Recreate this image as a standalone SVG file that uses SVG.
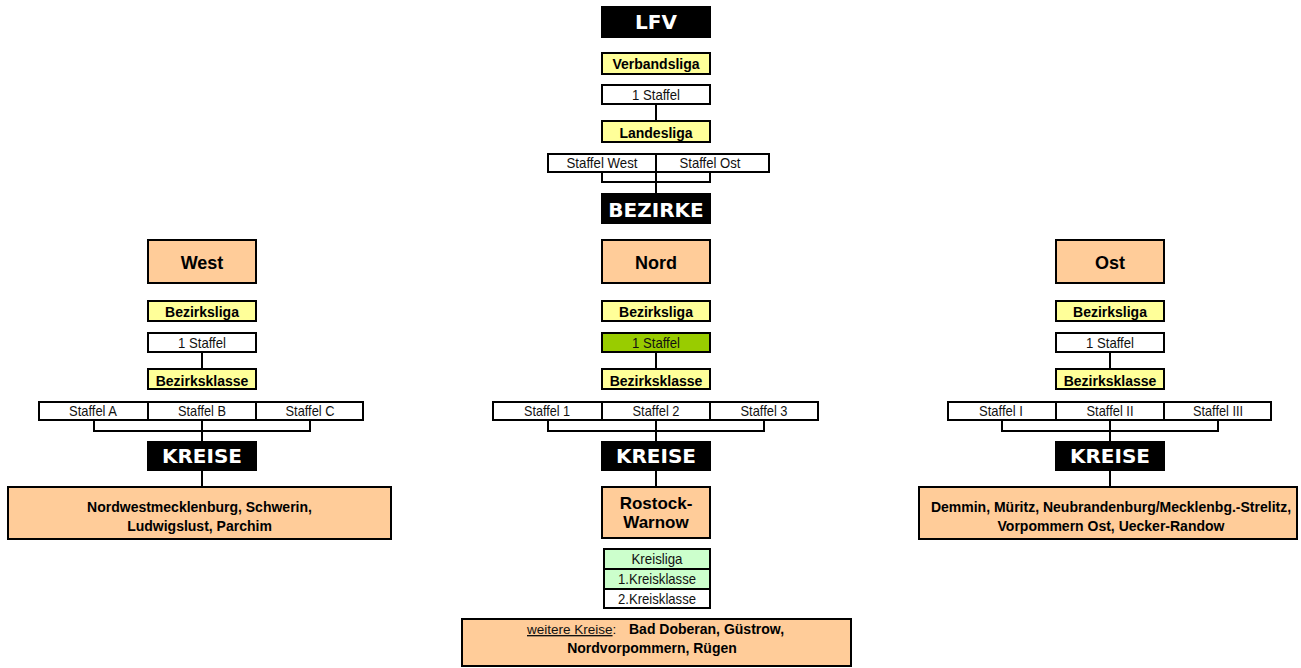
<svg xmlns="http://www.w3.org/2000/svg" width="1301" height="668" viewBox="0 0 1301 668">
<style>
  .box{stroke:#000;stroke-width:2}
  .yel{fill:#FFFF99}
  .wht{fill:#FFFFFF}
  .org{fill:#FFCC99}
  .grn{fill:#99CC00}
  .lgr{fill:#CCFFCC}
  .blk{fill:#000}
  .hdr{font-family:"DejaVu Sans",Verdana,sans-serif;font-weight:bold;font-size:20px;fill:#fff;text-anchor:middle}
  .b14{font-family:"Liberation Sans",Arial,sans-serif;font-weight:bold;font-size:14px;fill:#000;text-anchor:middle}
  .b18{font-family:"Liberation Sans",Arial,sans-serif;font-weight:bold;font-size:18px;fill:#000;text-anchor:middle}
  .b17{font-family:"Liberation Sans",Arial,sans-serif;font-weight:bold;font-size:17px;fill:#000;text-anchor:middle}
  .r13{font-family:"Liberation Sans",Arial,sans-serif;font-size:14.5px;fill:#111;text-anchor:middle}
  .ln{stroke:#000;stroke-width:2;fill:none}
</style>

<g id="connectors">
  <path class="ln" d="M656 105V120"/>
  <path class="ln" d="M602 173V182H710V173M656 173V193"/>
  <path class="ln" d="M202 353V368"/>
  <path class="ln" d="M94 421V431H310V421M202 421V441"/>
  <path class="ln" d="M202 471V486"/>
  <path class="ln" d="M656 353V368"/>
  <path class="ln" d="M548 421V431H764V421M656 421V441"/>
  <path class="ln" d="M656 471V486"/>
  <path class="ln" d="M1110 353V368"/>
  <path class="ln" d="M1002 421V431H1218V421M1110 421V441"/>
  <path class="ln" d="M1110 471V486"/>
</g>

<g id="lfv"><rect class="blk" x="601" y="6" width="110" height="32"/><text class="hdr" x="656" y="29.3">LFV</text></g>
<g id="verbandsliga"><rect class="box yel" x="602" y="53" width="108" height="21"/><text class="b14" x="656" y="69.3">Verbandsliga</text></g>
<g id="vl-staffel"><rect class="box wht" x="602" y="85" width="108" height="19"/><text class="r13" x="656" y="100" textLength="48" lengthAdjust="spacingAndGlyphs">1 Staffel</text></g>
<g id="landesliga"><rect class="box yel" x="602" y="121" width="108" height="21"/><text class="b14" x="656" y="137.7">Landesliga</text></g>
<g id="ll-staffeln"><rect class="box wht" x="548" y="154" width="221" height="18"/><path class="ln" d="M656 154V172"/>
  <text class="r13" x="602" y="168.3" textLength="71" lengthAdjust="spacingAndGlyphs">Staffel West</text><text class="r13" x="710" y="168.3" textLength="61" lengthAdjust="spacingAndGlyphs">Staffel Ost</text></g>
<g id="bezirke"><rect class="blk" x="601" y="193" width="110" height="31"/><text class="hdr" x="656" y="216.7">BEZIRKE</text></g>

<g id="west"><rect class="box org" x="148" y="240" width="108" height="43"/><text class="b18" x="202" y="268.5">West</text></g>
<g id="west-bezirksliga"><rect class="box yel" x="148" y="301" width="108" height="20"/><text class="b14" x="202" y="317.3">Bezirksliga</text></g>
<g id="west-bl-staffel"><rect class="box wht" x="148" y="333" width="108" height="19"/><text class="r13" x="202" y="348.3" textLength="48" lengthAdjust="spacingAndGlyphs">1 Staffel</text></g>
<g id="west-bezirksklasse"><rect class="box yel" x="148" y="369" width="108" height="20"/><text class="b14" x="202" y="385.5">Bezirksklasse</text></g>
<g id="west-staffeln"><rect class="box wht" x="39" y="402" width="324" height="18"/><path class="ln" d="M148 402V420M256 402V420"/>
  <text class="r13" x="93" y="416" textLength="48" lengthAdjust="spacingAndGlyphs">Staffel A</text><text class="r13" x="202" y="416" textLength="48" lengthAdjust="spacingAndGlyphs">Staffel B</text><text class="r13" x="310" y="416" textLength="49" lengthAdjust="spacingAndGlyphs">Staffel C</text></g>
<g id="west-kreise"><rect class="blk" x="147" y="441" width="110" height="30"/><text class="hdr" x="202" y="463.3">KREISE</text></g>
<g id="west-kreisliste"><rect class="box org" x="8" y="487" width="383" height="52"/>
  <text class="b14" x="199.5" y="512">Nordwestmecklenburg, Schwerin,</text><text class="b14" x="199.5" y="531">Ludwigslust, Parchim</text></g>

<g id="nord"><rect class="box org" x="602" y="240" width="108" height="43"/><text class="b18" x="656" y="268.5">Nord</text></g>
<g id="nord-bezirksliga"><rect class="box yel" x="602" y="301" width="108" height="20"/><text class="b14" x="656" y="317.3">Bezirksliga</text></g>
<g id="nord-bl-staffel"><rect class="box grn" x="602" y="333" width="108" height="19"/><text class="r13" x="656" y="348.3" textLength="48" lengthAdjust="spacingAndGlyphs">1 Staffel</text></g>
<g id="nord-bezirksklasse"><rect class="box yel" x="602" y="369" width="108" height="20"/><text class="b14" x="656" y="385.5">Bezirksklasse</text></g>
<g id="nord-staffeln"><rect class="box wht" x="493" y="402" width="325" height="18"/><path class="ln" d="M602 402V420M710 402V420"/>
  <text class="r13" x="547" y="416" textLength="46" lengthAdjust="spacingAndGlyphs">Staffel 1</text><text class="r13" x="656" y="416" textLength="47" lengthAdjust="spacingAndGlyphs">Staffel 2</text><text class="r13" x="764" y="416" textLength="47" lengthAdjust="spacingAndGlyphs">Staffel 3</text></g>
<g id="nord-kreise"><rect class="blk" x="601" y="441" width="110" height="30"/><text class="hdr" x="656" y="463.3">KREISE</text></g>
<g id="rostock-warnow"><rect class="box org" x="602" y="487" width="108" height="51"/>
  <text class="b17" x="656" y="509">Rostock-</text><text class="b17" x="656" y="528">Warnow</text></g>
<g id="kreisligen">
  <rect class="box lgr" x="604" y="549" width="106" height="20"/>
  <rect class="box lgr" x="604" y="569" width="106" height="20"/>
  <rect class="box wht" x="604" y="589" width="106" height="19"/>
  <text class="r13" x="657" y="564" textLength="51" lengthAdjust="spacingAndGlyphs">Kreisliga</text>
  <text class="r13" x="657" y="584" textLength="78" lengthAdjust="spacingAndGlyphs">1.Kreisklasse</text>
  <text class="r13" x="657" y="604" textLength="78" lengthAdjust="spacingAndGlyphs">2.Kreisklasse</text>
</g>
<g id="weitere-kreise"><rect class="box org" x="462" y="619" width="389" height="47"/>
  <text x="527" y="634" style="font-family:'Liberation Sans',Arial,sans-serif;font-size:13.5px;fill:#111"><tspan text-decoration="underline">weitere Kreise</tspan>:<tspan x="629" style="font-size:14px;font-weight:bold;fill:#000">Bad Doberan, Güstrow,</tspan></text>
  <text class="b14" x="652" y="652.7">Nordvorpommern, Rügen</text></g>

<g id="ost"><rect class="box org" x="1056" y="240" width="108" height="43"/><text class="b18" x="1110" y="268.5">Ost</text></g>
<g id="ost-bezirksliga"><rect class="box yel" x="1056" y="301" width="108" height="20"/><text class="b14" x="1110" y="317.3">Bezirksliga</text></g>
<g id="ost-bl-staffel"><rect class="box wht" x="1056" y="333" width="108" height="19"/><text class="r13" x="1110" y="348.3" textLength="48" lengthAdjust="spacingAndGlyphs">1 Staffel</text></g>
<g id="ost-bezirksklasse"><rect class="box yel" x="1056" y="369" width="108" height="20"/><text class="b14" x="1110" y="385.5">Bezirksklasse</text></g>
<g id="ost-staffeln"><rect class="box wht" x="948" y="402" width="323" height="18"/><path class="ln" d="M1056 402V420M1164 402V420"/>
  <text class="r13" x="1001" y="416" textLength="44" lengthAdjust="spacingAndGlyphs">Staffel I</text><text class="r13" x="1110" y="416" textLength="47" lengthAdjust="spacingAndGlyphs">Staffel II</text><text class="r13" x="1218" y="416" textLength="50" lengthAdjust="spacingAndGlyphs">Staffel III</text></g>
<g id="ost-kreise"><rect class="blk" x="1055" y="441" width="110" height="30"/><text class="hdr" x="1110" y="463.3">KREISE</text></g>
<g id="ost-kreisliste"><rect class="box org" x="919" y="487" width="378" height="52"/>
  <text class="b14" x="1111" y="512">Demmin, Müritz, Neubrandenburg/Mecklenbg.-Strelitz,</text><text class="b14" x="1111" y="531">Vorpommern Ost, Uecker-Randow</text></g>
</svg>
